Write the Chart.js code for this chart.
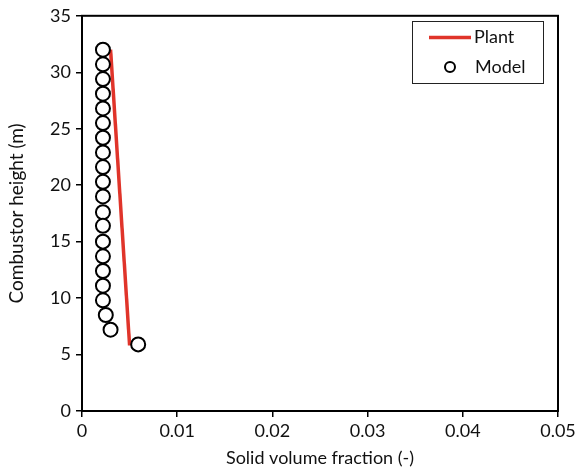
<!DOCTYPE html>
<html>
<head>
<meta charset="utf-8">
<script src="https://cdn.jsdelivr.net/npm/chart.js@4/dist/chart.umd.min.js"></script>
<style>
  html, body { margin: 0; padding: 0; background: #fff; }
  #wrap { width: 581px; height: 473px; }
</style>
</head>
<body>
<div id="wrap"><canvas id="chart" width="581" height="473"></canvas></div>
<script>
// data
const plantX = [0.0030, 0.0050];
const plantY = [32.0, 5.8];

const modelX = [0.0022, 0.0022, 0.0022, 0.0022, 0.0022, 0.0022, 0.0022, 0.0022, 0.0022, 0.0022,
                0.0022, 0.0022, 0.0022, 0.0022, 0.0022, 0.0022, 0.0022, 0.0022, 0.0025, 0.0030, 0.0059];
const modelY = [32.0, 30.7, 29.4, 28.1, 26.8, 25.5, 24.2, 22.9, 21.6, 20.3,
                19.0, 17.6, 16.4, 15.0, 13.7, 12.4, 11.1, 9.8, 8.5, 7.2, 5.9];

const xTicks = [0, 0.01, 0.02, 0.03, 0.04, 0.05];
const yTicks = [0, 5, 10, 15, 20, 25, 30, 35];

const FONT = 'Lato, "Open Sans", sans-serif';
const RED = '#e0342a';

// frame round the plot + legend inside it
const framePlugin = {
  id: 'frame',
  afterDraw(chart) {
    const { ctx, chartArea: a } = chart;
    ctx.save();
    ctx.strokeStyle = '#000';
    ctx.lineWidth = 2;
    ctx.strokeRect(a.left, a.top, a.right - a.left, a.bottom - a.top);

    // legend box
    ctx.lineWidth = 1;
    ctx.strokeStyle = '#222';
    ctx.fillStyle = '#fff';
    ctx.fillRect(412.5, 21.5, 131, 62);
    ctx.strokeRect(412.5, 21.5, 131, 62);

    ctx.strokeStyle = RED;
    ctx.lineWidth = 3.5;
    ctx.beginPath();
    ctx.moveTo(429, 37.5);
    ctx.lineTo(471, 37.5);
    ctx.stroke();

    ctx.strokeStyle = '#000';
    ctx.lineWidth = 2;
    ctx.beginPath();
    ctx.arc(450, 67, 5, 0, Math.PI * 2);
    ctx.stroke();

    ctx.fillStyle = '#111';
    ctx.font = '18px ' + FONT;
    ctx.textBaseline = 'middle';
    ctx.textAlign = 'left';
    ctx.fillText('Plant', 474, 37);
    ctx.fillText('Model', 475, 67);
    ctx.restore();
  }
};

new Chart(document.getElementById('chart'), {
  type: 'scatter',
  data: {
    datasets: [
      {
        label: 'Model',
        data: modelX.map((x, i) => ({ x: x, y: modelY[i] })),
        pointStyle: 'circle',
        pointRadius: 7,
        pointBorderWidth: 2,
        pointBorderColor: '#000',
        pointBackgroundColor: '#fff',
        showLine: false,
        order: 1
      },
      {
        label: 'Plant',
        data: plantX.map((x, i) => ({ x: x, y: plantY[i] })),
        showLine: true,
        borderColor: RED,
        borderWidth: 3.5,
        pointRadius: 0,
        order: 2
      }
    ]
  },
  options: {
    responsive: false,
    animation: false,
    layout: { padding: { left: 0, top: 11, right: 23, bottom: 0 } },
    plugins: {
      legend: { display: false },
      tooltip: { enabled: false }
    },
    scales: {
      x: {
        type: 'linear',
        min: 0,
        max: 0.05,
        afterBuildTicks: s => { s.ticks = xTicks.map(v => ({ value: v })); },
        afterFit: s => { s.height = 62; },
        grid: { drawOnChartArea: false, drawTicks: true, tickLength: 6, color: '#000', lineWidth: 1.5 },
        border: { color: '#000', width: 2 },
        ticks: { color: '#111', font: { family: FONT, size: 18 }, padding: 3, maxRotation: 0 },
        title: { display: true, text: 'Solid volume fraction (-)', color: '#111', font: { family: FONT, size: 18 }, padding: { top: 4 } }
      },
      y: {
        type: 'linear',
        min: 0,
        max: 35,
        afterBuildTicks: s => { s.ticks = yTicks.map(v => ({ value: v })); },
        afterFit: s => { s.width = 82; },
        grid: { drawOnChartArea: false, drawTicks: true, tickLength: 6, color: '#000', lineWidth: 1.5 },
        border: { color: '#000', width: 2 },
        ticks: { color: '#111', font: { family: FONT, size: 18 }, padding: 5 },
        title: { display: true, text: 'Combustor height (m)', color: '#111', font: { family: FONT, size: 19 }, padding: { top: 5, bottom: 0 } }
      }
    }
  },
  plugins: [framePlugin]
});
</script>
</body>
</html>
